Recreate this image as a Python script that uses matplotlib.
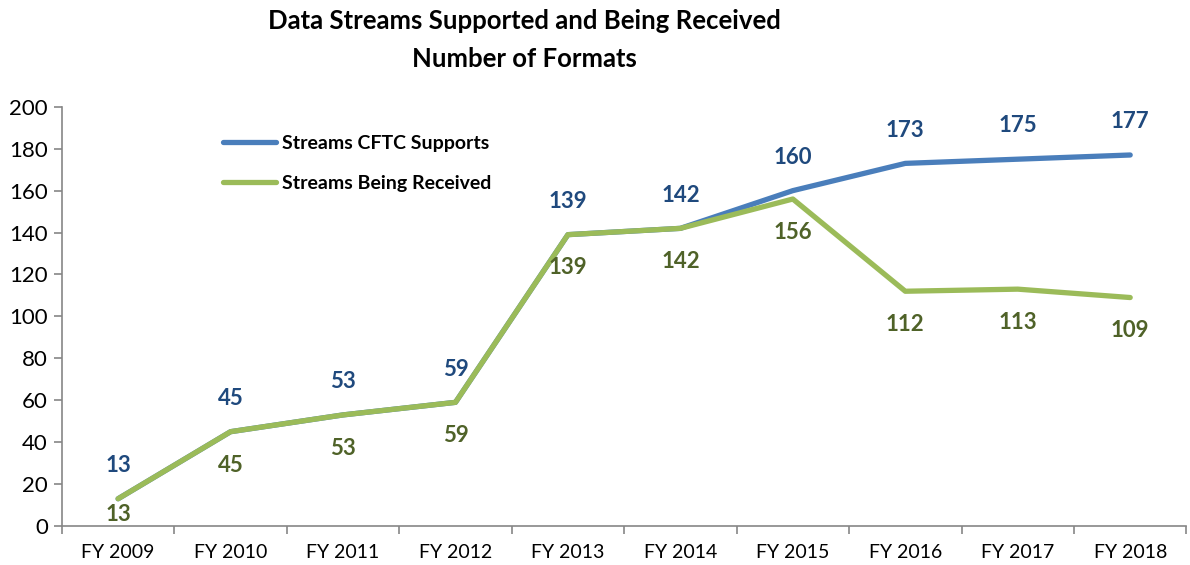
import matplotlib.pyplot as plt

plt.rcParams['font.family'] = ['Lato', 'DejaVu Sans']

# Data
years = ['FY 2009', 'FY 2010', 'FY 2011', 'FY 2012', 'FY 2013',
         'FY 2014', 'FY 2015', 'FY 2016', 'FY 2017', 'FY 2018']
supported = [13, 45, 53, 59, 139, 142, 160, 173, 175, 177]
received = [13, 45, 53, 59, 139, 142, 156, 112, 113, 109]

blue_line = '#4A7EBB'
green_line = '#9BBB59'
blue_text = '#1F497D'
green_text = '#4F6228'
spine_col = '#868686'

fig = plt.figure(figsize=(11.9, 5.65), dpi=100)
ax = fig.add_axes([0.052, 0.069, 0.945, 0.742])

x = list(range(len(years)))
ax.plot(x, supported, color=blue_line, lw=3.8, solid_capstyle='round',
        label='Streams CFTC Supports')
ax.plot(x, received, color=green_line, lw=3.8, solid_capstyle='round',
        label='Streams Being Received')

# Data labels (labels near the x axis are pulled up, as Excel does)
for i in x:
    ax.annotate(str(supported[i]), (i, supported[i]), xytext=(0, 24),
                textcoords='offset points', ha='center', va='center',
                color=blue_text, fontsize=16, fontweight='bold')
    off = -24 if received[i] > 20 else -11
    ax.annotate(str(received[i]), (i, received[i]), xytext=(0, off),
                textcoords='offset points', ha='center', va='center',
                color=green_text, fontsize=16, fontweight='bold',
                annotation_clip=False)

ax.set_xlim(-0.5, len(years) - 0.5)
ax.set_ylim(0, 200)
ax.set_yticks(range(0, 201, 20))
ax.set_xticks(x)
ax.set_xticklabels(years)
ax.set_xticks([i + 0.5 for i in range(-1, len(years))], minor=True)
ax.tick_params(axis='x', which='major', length=0, pad=13, labelsize=14)
ax.tick_params(axis='x', which='minor', length=6, color=spine_col, width=1.2)
ax.tick_params(axis='y', length=6, color=spine_col, width=1.2, labelsize=16, pad=4)

for s in ['top', 'right']:
    ax.spines[s].set_visible(False)
for s in ['left', 'bottom']:
    ax.spines[s].set_color(spine_col)
    ax.spines[s].set_linewidth(1.2)

leg = ax.legend(loc='upper left', bbox_to_anchor=(0.128, 0.975), frameon=False,
                handlelength=2.7, handletextpad=0.3, labelspacing=1.2,
                prop={'weight': 'bold', 'size': 14})

fig.text(0.441, 0.962, 'Data Streams Supported and Being Received',
         ha='center', va='center', fontsize=18.5, fontweight='bold')
fig.text(0.441, 0.896, 'Number of Formats',
         ha='center', va='center', fontsize=18.5, fontweight='bold')

fig.savefig('out.png', dpi=100)
